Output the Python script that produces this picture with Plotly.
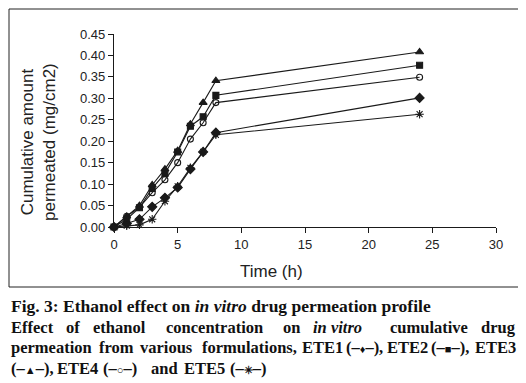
import plotly.graph_objects as go

time_h = [0, 1, 2, 3, 4, 5, 6, 7, 8, 24]
ete1 = [0.0, 0.008, 0.018, 0.047, 0.068, 0.092, 0.135, 0.175, 0.220, 0.301]
ete2 = [0.0, 0.018, 0.045, 0.090, 0.125, 0.175, 0.235, 0.257, 0.307, 0.377]
ete3 = [0.0, 0.025, 0.050, 0.098, 0.135, 0.178, 0.240, 0.290, 0.341, 0.408]
ete4 = [0.0, 0.025, 0.046, 0.080, 0.110, 0.150, 0.205, 0.243, 0.290, 0.349]
ete5 = [0.0, 0.003, 0.005, 0.018, 0.060, 0.095, 0.138, 0.175, 0.215, 0.263]

series = [
    ("ETE1", ete1, "diamond", 7),
    ("ETE2", ete2, "square", 6),
    ("ETE3", ete3, "triangle-up", 7),
    ("ETE4", ete4, "circle-open", 6),
    ("ETE5", ete5, "asterisk-open", 7),
]

x_ticks = [0, 5, 10, 15, 20, 25, 30]
y_ticks = [0.0, 0.05, 0.10, 0.15, 0.20, 0.25, 0.30, 0.35, 0.40, 0.45]

# page pixel -> paper coordinate helpers (plot area spans page x 114..496, y 34..227)
def px(p):
    return (p - 114) / 382

def py(p):
    return (227 - p) / 193

ink = "#1a1a1a"
fig = go.Figure()
for name, vals, sym_name, sz in series:
    fig.add_trace(go.Scatter(
        x=time_h, y=vals, name=name, mode="lines+markers",
        line=dict(color=ink, width=1.1),
        marker=dict(symbol=sym_name, size=sz, color=ink,
                    line=dict(color=ink, width=1.1)),
        cliponaxis=False, showlegend=False,
    ))

axis_font = dict(family="Liberation Sans, Arial, sans-serif", size=13, color="#222")
fig.update_layout(
    width=518, height=375,
    margin=dict(l=106, r=30, t=26, b=156),
    paper_bgcolor="white", plot_bgcolor="white",
    xaxis=dict(range=[0, 30], tickvals=x_ticks, ticktext=[str(v) for v in x_ticks],
               showgrid=False, zeroline=False, showline=True, linecolor=ink, linewidth=1.2,
               ticks="outside", ticklen=5, tickcolor=ink, tickfont=axis_font),
    yaxis=dict(range=[0, 0.45], tickvals=y_ticks, ticktext=[f"{v:.2f}" for v in y_ticks],
               showgrid=False, zeroline=False, showline=True, linecolor=ink, linewidth=1.2,
               ticks="outside", ticklen=5, tickcolor=ink, tickfont=axis_font),
    shapes=[dict(type="rect", xref="paper", yref="paper",
                 x0=px(9), x1=px(519), y0=py(287), y1=py(9),
                 line=dict(color="#222", width=1), fillcolor="rgba(0,0,0,0)")],
)

title_font = dict(family="Liberation Sans, Arial, sans-serif", size=17, color="#222")
fig.add_annotation(text="Time (h)", xref="paper", yref="paper",
                   x=px(271), y=py(271), showarrow=False, font=title_font,
                   xanchor="center", yanchor="middle")
fig.add_annotation(text="Cumulative amount<br>permeated (mg/cm2)", xref="paper", yref="paper",
                   x=px(38), y=py(142), showarrow=False, textangle=-90,
                   font=title_font, xanchor="center", yanchor="middle")

cap_font1 = dict(family="Liberation Serif, Times New Roman, serif", size=17.5, color="#111")
cap_font = dict(family="Liberation Serif, Times New Roman, serif", size=16.5, color="#111")
cap_y = [306, 327, 347, 368]

fig.add_annotation(text="<b>Fig. 3: Ethanol effect on <i>in vitro</i> drug permeation profile</b>",
                   xref="paper", yref="paper", x=px(9), y=py(cap_y[0]), showarrow=False,
                   xanchor="left", yanchor="middle", align="left", font=cap_font1)

def sym(s):
    return "(–<span style='font-size:11px'>" + s + "</span>–)"

# justified caption lines 2-4: word runs placed where the reference sets them
# (first word left-aligned, last word of full lines right-aligned, others centred)
line2_words = ["Effect", "of", "ethanol", "concentration", "on", "<i>in vitro</i>", "cumulative", "drug"]
line2_x = [9, 72.5, 119, 214, 291.5, 337.5, 429, 518]
line3_words = ["permeation", "from", "various", "formulations,", "ETE1", sym("♦") + ",",
               "ETE2", sym("■") + ",", "ETE3"]
line3_x = [9, 116, 166.5, 249, 322, 364, 407, 450, 518]
line4_words = [sym("▲") + ",", "ETE4", sym("○"), "and", "ETE5", sym("✳")]
line4_x = [9, 77, 120, 164, 204, 248]

for words, xs, yy, full in [(line2_words, line2_x, cap_y[1], True),
                            (line3_words, line3_x, cap_y[2], True),
                            (line4_words, line4_x, cap_y[3], False)]:
    n = len(words)
    for i, (w, xx) in enumerate(zip(words, xs)):
        if i == 0:
            anchor = "left"
        elif i == n - 1 and full:
            anchor = "right"
        else:
            anchor = "center"
        fig.add_annotation(text=f"<b>{w}</b>", xref="paper", yref="paper",
                           x=px(xx), y=py(yy), showarrow=False,
                           xanchor=anchor, yanchor="middle", font=cap_font)

fig.write_html("out.html")
